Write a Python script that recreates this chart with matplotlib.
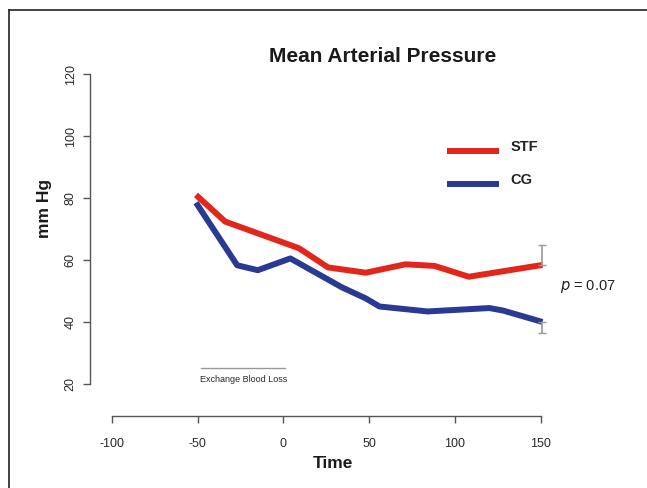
import matplotlib
matplotlib.use("Agg")
from matplotlib import pyplot as plt
from matplotlib.lines import Line2D
from matplotlib.transforms import ScaledTranslation

plt.rcParams['font.family'] = ['Liberation Sans', 'DejaVu Sans']
plt.rcParams['axes.unicode_minus'] = False

# values (time, mm Hg)
stf_time = [-51, -34, 9, 26, 48, 71, 88, 108, 151]
stf_map = [81.1, 72.5, 63.9, 57.7, 56.0, 58.7, 58.2, 54.7, 58.5]
cg_time = [-51, -27, -15, 4, 34, 48, 56, 84, 120, 128, 151]
cg_map = [78.6, 58.4, 56.8, 60.6, 51.3, 47.7, 45.1, 43.5, 44.6, 43.8, 40.1]
stf_err_up = 6.4
cg_err_down = 3.6
loss_start, loss_end, loss_level = -48, 1, 25.4
x_ticks = [-100, -50, 0, 50, 100, 150]
y_ticks = [20, 40, 60, 80, 100, 120]

RED = '#e3261c'
BLUE = '#2a3a92'
GREY = '#555555'

W, H = 647, 488
fig = plt.figure(figsize=(W / 100, H / 100), dpi=100)
ax = fig.add_axes([94.8 / W, 1 - 399.8 / H, 463.1 / W, 341.0 / H])
ax.set_xlim(-110, 160)
ax.set_ylim(15, 125)
ax.patch.set_alpha(0)

ax.plot(stf_time, stf_map, color=RED, lw=4.3, solid_capstyle='butt', label='STF')
ax.plot(cg_time, cg_map, color=BLUE, lw=4.3, solid_capstyle='butt', label='CG')

# one-sided error bars at the last time point
ax.errorbar([stf_time[-1]], [stf_map[-1]], yerr=[[0], [stf_err_up]], fmt='none',
            ecolor='#999999', elinewidth=1.2, capsize=3)
ax.errorbar([cg_time[-1]], [cg_map[-1]], yerr=[[cg_err_down], [0]], fmt='none',
            ecolor='#999999', elinewidth=1.2, capsize=3)

# exchange blood loss period
ax.plot([loss_start, loss_end], [loss_level, loss_level], color='#999999', lw=1)
ax.text((loss_start + loss_end) / 2, loss_level - 3.8, 'Exchange Blood Loss',
        ha='center', va='center', fontsize=6.5, color='#2a2a2a')

ax.text(161, 51.4, r'$p$ = 0.07', fontsize=10.5, ha='left', va='center', color='#222222')

# R style axes
for s in ['top', 'right']:
    ax.spines[s].set_visible(False)
ax.spines['left'].set_position(('outward', 3.5))
ax.spines['bottom'].set_position(('outward', 11.4))
ax.spines['left'].set_bounds(20, 120)
ax.spines['bottom'].set_bounds(-100, 150)
for s in ['left', 'bottom']:
    ax.spines[s].set_color(GREY)
    ax.spines[s].set_linewidth(1)
ax.set_xticks(x_ticks)
ax.set_yticks(y_ticks)
ax.tick_params(axis='both', colors=GREY, labelcolor='#2a2a2a', labelsize=9,
               length=5, width=1)
ax.tick_params(axis='x', pad=11)
ax.tick_params(axis='y', pad=4.5, labelrotation=90)
for lbl in ax.get_yticklabels():
    lbl.set_va('center')

leg = ax.legend(loc='upper left', bbox_to_anchor=(434 / W, 1 - 132 / H),
                bbox_transform=fig.transFigure, frameon=False, handlelength=3.54,
                handletextpad=0.8, labelspacing=1.3,
                prop={'size': 10.5, 'weight': 'bold'})
for t in leg.get_texts():
    t.set_color('#222222')
    # labels sit a little above their line in the original
    t.set_transform(t.get_transform() + ScaledTranslation(0, 0.05, fig.dpi_scale_trans))

fig.text(382.5 / W, 1 - 57 / H, 'Mean Arterial Pressure', ha='center', va='center',
         fontsize=15, fontweight='bold', color='#1a1a1a')
fig.text(333 / W, 1 - 463 / H, 'Time', ha='center', va='center', fontsize=12.5,
         fontweight='bold', color='#1a1a1a')
fig.text(45 / W, 1 - 208 / H, 'mm Hg', ha='center', va='center', fontsize=12.5,
         fontweight='bold', rotation=90, color='#1a1a1a')

# frame of the cropped figure panel
fig.add_artist(Line2D([9 / W, 9 / W], [0, 1 - 9.5 / H], color='#222222', lw=1.2,
                      transform=fig.transFigure))
fig.add_artist(Line2D([9 / W, 1], [1 - 9.5 / H, 1 - 9.5 / H], color='#222222', lw=1.2,
                      transform=fig.transFigure))

fig.savefig('out.png', dpi=100)
